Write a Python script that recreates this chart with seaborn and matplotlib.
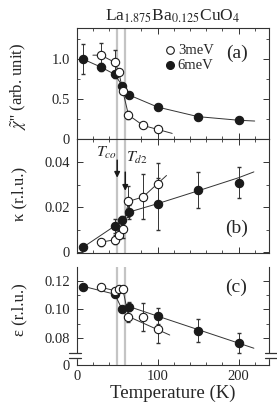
import numpy as np
import pandas as pd
import matplotlib
matplotlib.use("Agg")
import matplotlib.pyplot as plt
import seaborn as sns
from matplotlib.ticker import MultipleLocator, FixedLocator

# temperatures (K)
t_6mev = [8, 47, 56, 65, 100, 150, 200]
t_6mev_a = [8, 30, 47, 56, 65, 100, 150, 200]
t_3mev = [30, 47, 52, 57, 64, 82, 100]

# (a) chi''
chi_6mev = [1.00, 0.90, 0.81, 0.67, 0.55, 0.40, 0.28, 0.235]
chi_6mev_err = [0.19, 0.05, 0.04, 0.03, 0.03, 0.03, 0.02, 0.02]
chi_3mev = [1.05, 0.96, 0.84, 0.60, 0.30, 0.17, 0.12]
chi_3mev_err = [0.15, 0.16, 0.03, 0.03, 0.05, 0.02, 0.02]

# (b) kappa
kap_6mev = [0.0022, 0.0116, 0.0141, 0.0178, 0.0212, 0.0277, 0.0308]
kap_6mev_err = [0.0005, 0.003, 0.002, 0.003, 0.0115, 0.008, 0.007]
kap_3mev = [0.0044, 0.0055, 0.0077, 0.0101, 0.0225, 0.0245, 0.0304]
kap_3mev_err = [0.0015, 0.002, 0.002, 0.004, 0.007, 0.010, 0.009]

# (c) epsilon
eps_6mev = [0.1157, 0.1105, 0.1000, 0.1018, 0.0953, 0.0851, 0.0763]
eps_6mev_err = [0.001, 0.002, 0.002, 0.003, 0.0055, 0.0083, 0.007]
eps_3mev = [0.1153, 0.1130, 0.1140, 0.1140, 0.0949, 0.0949, 0.0860]
eps_3mev_err = [0.001, 0.002, 0.001, 0.002, 0.004, 0.0098, 0.0097]

# guide lines
ga6_t = [8, 30, 47, 56, 65, 100, 150, 200, 220]
ga6_v = [1.00, 0.90, 0.81, 0.67, 0.55, 0.40, 0.28, 0.235, 0.225]
ga3_t = [20, 30, 47, 52, 57, 64, 82, 100, 118]
ga3_v = [1.05, 1.05, 0.96, 0.84, 0.60, 0.30, 0.17, 0.12, 0.07]
gb6_t = [8, 47, 56, 65, 100, 150, 200, 219]
gb6_v = [0.0022, 0.0116, 0.0141, 0.0178, 0.0215, 0.0272, 0.0330, 0.0356]
gb3_t = [30, 47, 52, 57, 64, 82, 100, 111]
gb3_v = [0.0044, 0.0055, 0.0077, 0.0101, 0.0225, 0.0245, 0.0304, 0.0340]
gc6_t = [8, 47, 56, 65, 219]
gc6_v = [0.1160, 0.1105, 0.1000, 0.1018, 0.0728]
gc3_t = [30, 47, 52, 57, 64, 115]
gc3_v = [0.1153, 0.1130, 0.1140, 0.1140, 0.0949, 0.0820]

t_co, t_d2 = 50, 60

sns.set_style("ticks")
plt.rcParams['font.family'] = ['Liberation Serif', 'DejaVu Serif']
plt.rcParams['mathtext.fontset'] = 'stix'
plt.rcParams['xtick.direction'] = 'in'
plt.rcParams['ytick.direction'] = 'in'

fig = plt.figure(figsize=(2.77, 4.05), dpi=100)
L, W = 0.277, 0.695
ax_a = fig.add_axes([L, 0.6568, W, 0.274])
ax_b = fig.add_axes([L, 0.3753, W, 0.2815])
ax_c = fig.add_axes([L, 0.0988, W, 0.242])

lc = '#333333'


def draw(ax, t6, v6, e6, t3, v3, e3, g6t, g6v, g3t, g3v):
    sns.lineplot(x=g6t, y=g6v, ax=ax, color=lc, lw=0.7, sort=False, zorder=2)
    sns.lineplot(x=g3t, y=g3v, ax=ax, color=lc, lw=0.7, sort=False, zorder=2)
    ax.errorbar(t6, v6, yerr=e6, fmt='none', ecolor=lc, elinewidth=0.7, capsize=1.5, zorder=3)
    ax.errorbar(t3, v3, yerr=e3, fmt='none', ecolor=lc, elinewidth=0.7, capsize=1.5, zorder=3)
    sns.scatterplot(x=t6, y=v6, ax=ax, s=36, color='#1a1a1a', edgecolor='#1a1a1a',
                    linewidth=0.8, zorder=4)
    sns.scatterplot(x=t3, y=v3, ax=ax, s=36, color='white', edgecolor='#1a1a1a',
                    linewidth=0.8, zorder=5)
    for tv in (t_co, t_d2):
        ax.axvline(tv, color='#c4c4c4', lw=1.6, zorder=1)
    ax.set_xlim(0, 238)
    ax.xaxis.set_major_locator(FixedLocator([0, 100, 200]))
    ax.xaxis.set_minor_locator(MultipleLocator(20))
    ax.tick_params(which='both', top=True, right=True, color=lc, labelsize=10.5)
    ax.tick_params(which='major', length=4, width=0.7)
    ax.tick_params(axis='y', pad=5)
    ax.tick_params(which='minor', length=2, width=0.6)
    for s in ax.spines.values():
        s.set_color(lc)
        s.set_linewidth(0.8)
    ax.set_xlabel('')
    ax.set_ylabel('')


draw(ax_a, t_6mev_a, chi_6mev, chi_6mev_err, t_3mev, chi_3mev, chi_3mev_err,
     ga6_t, ga6_v, ga3_t, ga3_v)
draw(ax_b, t_6mev, kap_6mev, kap_6mev_err, t_3mev, kap_3mev, kap_3mev_err,
     gb6_t, gb6_v, gb3_t, gb3_v)
draw(ax_c, t_6mev, eps_6mev, eps_6mev_err, t_3mev, eps_3mev, eps_3mev_err,
     gc6_t, gc6_v, gc3_t, gc3_v)

# (a)
ax_a.set_ylim(0, 1.39)
ax_a.yaxis.set_major_locator(FixedLocator([0, 0.5, 1.0]))
ax_a.set_yticklabels(['0', '0.5', '1.0'])
ax_a.yaxis.set_minor_locator(MultipleLocator(0.25))
ax_a.tick_params(labelbottom=False)
ax_a.text(0.83, 0.77, '(a)', transform=ax_a.transAxes, fontsize=14, ha='center', va='center')
ax_a.plot([0.485], [0.80], 'o', transform=ax_a.transAxes, ms=5.5, mfc='white', mec='#1a1a1a', mew=0.8)
ax_a.plot([0.485], [0.665], 'o', transform=ax_a.transAxes, ms=5.5, mfc='#1a1a1a', mec='#1a1a1a')
ax_a.text(0.525, 0.80, '3meV', transform=ax_a.transAxes, fontsize=10.5, va='center')
ax_a.text(0.525, 0.665, '6meV', transform=ax_a.transAxes, fontsize=10.5, va='center')
ax_a.set_title(r'La$_{1.875}$Ba$_{0.125}$CuO$_4$', fontsize=12.5, pad=5)

# (b)
ax_b.set_ylim(-0.0004, 0.0502)
ax_b.yaxis.set_major_locator(FixedLocator([0, 0.02, 0.04]))
ax_b.set_yticklabels(['0', '0.02', '0.04'])
ax_b.yaxis.set_minor_locator(MultipleLocator(0.01))
ax_b.tick_params(labelbottom=False)
ax_b.text(0.83, 0.22, '(b)', transform=ax_b.transAxes, fontsize=14, ha='center', va='center')
for tv, y0, y1 in ((t_co, 0.0408, 0.0330), (t_d2, 0.0355, 0.0272)):
    ax_b.annotate('', xy=(tv, y1), xytext=(tv, y0),
                  arrowprops=dict(arrowstyle='-|>', color='#1a1a1a', lw=1.1,
                                  mutation_scale=8, shrinkA=0, shrinkB=0))
ax_b.text(t_co - 0.5, 0.0440, r'$T_{co}$', fontsize=11.5, ha='right', va='center')
ax_b.text(t_d2 + 0.5, 0.0418, r'$T_{d2}$', fontsize=11.5, ha='left', va='center')

# (c) broken axis
c_bottom = 0.0611
ax_c.set_ylim(c_bottom, 0.1295)
ax_c.yaxis.set_major_locator(FixedLocator([c_bottom, 0.08, 0.10, 0.12]))
ax_c.set_yticklabels(['0', '0.08', '0.10', '0.12'])
ax_c.yaxis.set_minor_locator(FixedLocator([0.09, 0.11]))
ax_c.spines['top'].set_visible(False)
ax_c.tick_params(which='both', top=False)
ax_c.text(0.83, 0.79, '(c)', transform=ax_c.transAxes, fontsize=14, ha='center', va='center')
trans = ax_c.get_yaxis_transform()
for xs in ((-0.04, 0.022), (0.978, 1.04)):
    ax_c.fill_between(xs, 0.0662, 0.0690, color='white', transform=trans, clip_on=False, zorder=6)
    for yb in (0.0659, 0.0693):
        ax_c.plot(xs, [yb, yb], color=lc, lw=0.9, transform=trans, clip_on=False, zorder=7)
ax_c.set_xlabel('Temperature (K)', fontsize=13.5, labelpad=1)

fig.text(19 / 277, 1 - 86 / 405, "$\\tilde{\\chi}$'' (arb. unit)", rotation=90,
         fontsize=12, ha='center', va='center')
fig.text(19 / 277, 1 - 194 / 405, 'κ (r.l.u.)', rotation=90,
         fontsize=12, ha='center', va='center')
fig.text(19 / 277, 1 - 310 / 405, 'ε (r.l.u.)', rotation=90,
         fontsize=12, ha='center', va='center')

fig.savefig('out.png', dpi=100)
